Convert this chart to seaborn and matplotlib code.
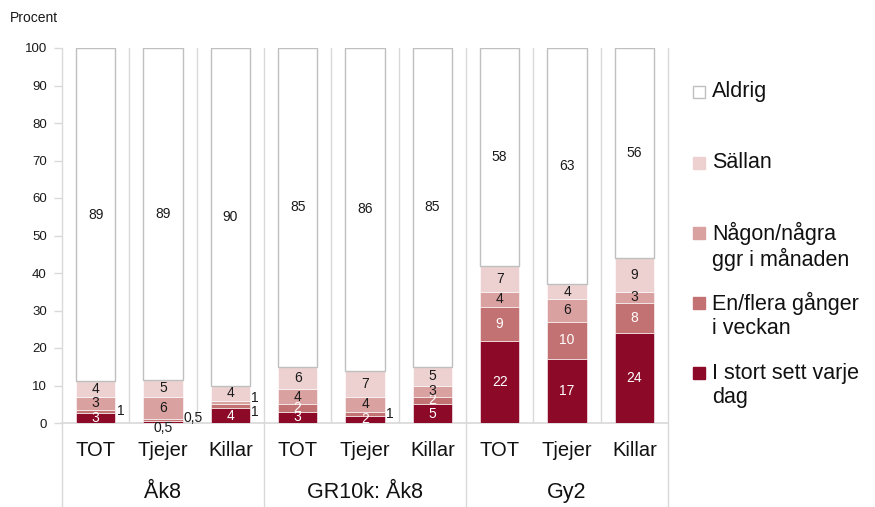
import numpy as np
import pandas as pd
import seaborn as sns
import matplotlib.pyplot as plt
import matplotlib.transforms as mtransforms
from matplotlib.patches import Rectangle

# Data: share (%) per answer, bottom to top of each stacked bar
groups = ['Åk8', 'GR10k: Åk8', 'Gy2']
subgroups = ['TOT', 'Tjejer', 'Killar']
categories = ['I stort sett varje dag', 'En/flera gånger i veckan',
              'Någon/några ggr i månaden', 'Sällan', 'Aldrig']
legend_labels = ['I stort sett varje\ndag', 'En/flera gånger\ni veckan',
                 'Någon/några\nggr i månaden', 'Sällan', 'Aldrig']

varje_dag = [2.6, 0.5, 4, 3, 2, 5, 22, 17, 24]
per_vecka = [1, 0.5, 1, 2, 1, 2, 9, 10, 8]
per_manad = [3.3, 5.9, 1, 4, 4, 3, 4, 6, 3]
sallan = [4.3, 4.6, 4, 6, 7, 5, 7, 4, 9]
aldrig = [88.8, 88.5, 90, 85, 86, 85, 58, 63, 56]

colors = ['#8C0A28', '#C27272', '#D9A1A0', '#EDD1D1', '#FFFFFF']
text_colors = ['white', 'white', '#1a1a1a', '#1a1a1a', '#1a1a1a']

series = [varje_dag, per_vecka, per_manad, sallan, aldrig]
ids = [f'{g}|{s}' for g in groups for s in subgroups]

sns.set_theme(style='white')
plt.rcParams['font.family'] = ['Liberation Sans', 'DejaVu Sans']

fig = plt.figure(figsize=(8.75, 5.07), dpi=100)
ax = fig.add_axes([62 / 875, 1 - 423 / 507, 606 / 875, 375 / 507])

grid_col = '#D9D9D9'
bottom = np.zeros(len(ids))
for i, vals in enumerate(series):
    df = pd.DataFrame({'id': ids, 'value': vals})
    is_aldrig = categories[i] == 'Aldrig'
    sns.barplot(data=df, x='id', y='value', order=ids, bottom=bottom,
                color=colors[i], saturation=1, width=0.58, errorbar=None,
                edgecolor='#BFBFBF' if is_aldrig else 'white',
                linewidth=1.0 if is_aldrig else 0.4, ax=ax, zorder=3)
    bottom = bottom + np.array(vals)

# value labels (small ones go outside the bar, like in the original)
nudges = {(1, 1): 0.5, (2, 1): -1.6, (2, 2): 1.2}
bottom = np.zeros(len(ids))
for i, vals in enumerate(series):
    for j, v in enumerate(vals):
        mid = bottom[j] + v / 2
        lab = f'{v:.1f}'.replace('.', ',') if v < 1 else f'{int(v + 0.5)}'
        if v <= 1 and i == 0:
            ax.text(j, -1.4, lab, ha='center', va='center', fontsize=10,
                    color='#1a1a1a', clip_on=False, zorder=5)
        elif v <= 1:
            ax.text(j + 0.31, mid + nudges.get((j, i), 0), lab, ha='left',
                    va='center', fontsize=10, color='#1a1a1a', clip_on=False, zorder=5)
        else:
            ax.text(j, mid, lab, ha='center', va='center', fontsize=10,
                    color=text_colors[i], zorder=5)
    bottom = bottom + np.array(vals)

ax.set_xlim(-0.5, 8.5)
ax.set_ylim(0, 100)
ax.set_yticks(range(0, 101, 10))
ax.tick_params(axis='y', labelsize=9.5, length=6, width=1, color=grid_col,
               left=True, pad=5, labelcolor='#1a1a1a')
ax.set_xticks(range(len(ids)))
ax.set_xticklabels(subgroups * 3, fontsize=14.5, color='#111111')
ax.tick_params(axis='x', length=0, pad=13)
ax.set_xlabel('')
ax.set_ylabel('')
for side in ['top', 'right', 'left']:
    ax.spines[side].set_visible(False)
ax.spines['bottom'].set_color(grid_col)

# separators
for x in [0.5, 1.5, 3.5, 4.5, 6.5, 7.5]:
    ax.axvline(x, 0, 1, color=grid_col, lw=1, zorder=1)
for x in [-0.5, 2.5, 5.5, 8.5]:
    ax.axvline(x, -0.224, 1, color=grid_col, lw=1, zorder=1, clip_on=False)

trans = mtransforms.blended_transform_factory(ax.transData, ax.transAxes)
for k, g in enumerate(groups):
    ax.text(3 * k + 1, -0.185, g, transform=trans, ha='center', va='center',
            fontsize=15.5, color='#111111')

fig.text(10 / 875, 1 - 18 / 507, 'Procent', ha='left', va='center',
         fontsize=10, color='#1a1a1a')

# legend, drawn top to bottom
leg_y = [385.5, 315.5, 246.5, 163, 92]
sq_y = [373, 303, 233, 163, 92]
for i in range(len(categories)):
    sq = 12
    fig.patches.append(Rectangle((693 / 875, 1 - (sq_y[i] + sq / 2) / 507),
                                 sq / 875, sq / 507, transform=fig.transFigure,
                                 facecolor=colors[i],
                                 edgecolor='#BFBFBF' if i == 4 else colors[i], lw=1))
    fig.text(712 / 875, 1 - leg_y[i] / 507, legend_labels[i], ha='left',
             va='center', fontsize=15.5, linespacing=1.15, color='#111111')

fig.savefig('out.png', dpi=100)
